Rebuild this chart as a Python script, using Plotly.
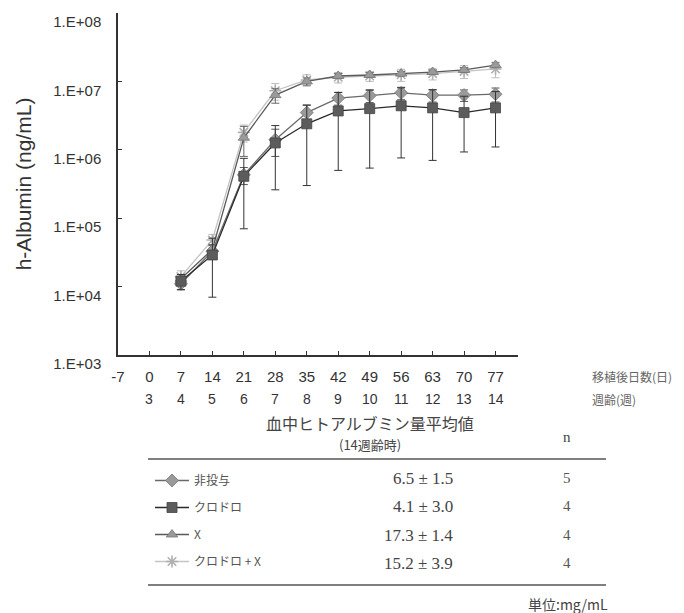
import plotly.graph_objects as go

# ---- data ----
days = [7, 14, 21, 28, 35, 42, 49, 56, 63, 70, 77]
day_ticks = [-7, 0, 7, 14, 21, 28, 35, 42, 49, 56, 63, 70, 77]
week_days = [0, 7, 14, 21, 28, 35, 42, 49, 56, 63, 70, 77]
week_labels = ["3", "4", "5", "6", "7", "8", "9", "10", "11", "12", "13", "14"]

non_admin = [1.1e4, 3.3e4, 4.3e5, 1.4e6, 3.5e6, 5.7e6, 6.2e6, 6.8e6, 6.3e6, 6.3e6, 6.5e6]
non_admin_err = [2e3, 8e3, 1.2e5, 6e5, 1.0e6, 1.2e6, 1.3e6, 1.4e6, 1.3e6, 1.2e6, 1.5e6]
clodro = [1.2e4, 2.9e4, 4.1e5, 1.26e6, 2.4e6, 3.7e6, 4.0e6, 4.4e6, 4.1e6, 3.5e6, 4.1e6]
clodro_err = [3e3, 2.2e4, 3.4e5, 1.0e6, 2.1e6, 3.2e6, 3.46e6, 3.64e6, 3.4e6, 2.57e6, 3.0e6]
x_only = [1.3e4, 3.5e4, 1.5e6, 6.3e6, 1.0e7, 1.2e7, 1.24e7, 1.3e7, 1.37e7, 1.47e7, 1.73e7]
x_err = [2e3, 5e3, 7e5, 1.5e6, 1.2e6, 1.0e6, 1.0e6, 1.0e6, 1.0e6, 1.2e6, 1.4e6]
clodro_x = [1.4e4, 4.8e4, 1.8e6, 7.3e6, 1.05e7, 1.15e7, 1.2e7, 1.25e7, 1.3e7, 1.4e7, 1.52e7]
clodro_x_err = [3e3, 1e4, 5e5, 2e6, 2e6, 2e6, 2e6, 2.5e6, 2.5e6, 3e6, 3.9e6]

y_tickvals = [1e3, 1e4, 1e5, 1e6, 1e7, 1e8]
y_ticktext = ["1.E+03", "1.E+04", "1.E+05", "1.E+06", "1.E+07", "1.E+08"]

group_names = ["非投与", "クロドロ", "X", "クロドロ + X"]
table_means = ["6.5", "4.1", "17.3", "15.2"]
table_sd = ["1.5", "3.0", "1.4", "3.9"]
table_n = ["5", "4", "4", "4"]

# ---- geometry helpers (pixel -> paper) ----
W, H = 684, 613
ML, MR, MT, MB = 110, 174, 5, 266
PW, PH = W - ML - MR, H - MT - MB


def px(xp):
    return (xp - ML) / PW


def py(yp):
    return (H - MB - yp) / PH


SANS = "Liberation Sans, Arial, sans-serif"
SERIF = "Liberation Serif, Times New Roman, serif"
JP = "Noto Sans CJK JP, sans-serif"

fig = go.Figure()

series = [
    dict(name=group_names[3], y=clodro_x, e=clodro_x_err, sym="asterisk-open", msize=10,
         mcol="#b0b0b0", lcol="#c4c4c4", mline=dict(color="#a8a8a8", width=1.6), ecol="#bdbdbd", rank=4),
    dict(name=group_names[2], y=x_only, e=x_err, sym="triangle-up", msize=10,
         mcol="#9a9a9a", lcol="#5a5a5a", mline=dict(color="#777", width=0.8), ecol="#666", rank=3),
    dict(name=group_names[0], y=non_admin, e=non_admin_err, sym="diamond", msize=10,
         mcol="#9a9a9a", lcol="#6a6a6a", mline=dict(color="#777", width=0.8), ecol="#555", rank=1),
    dict(name=group_names[1], y=clodro, e=clodro_err, sym="square", msize=10,
         mcol="#5c5c5c", lcol="#2a2a2a", mline=dict(color="#444", width=0.8), ecol="#333", rank=2),
]

for i, s in enumerate(series):
    fig.add_trace(go.Scatter(
        x=days, y=s["y"], name=s["name"], mode="lines+markers",
        line=dict(color=s["lcol"], width=1.3),
        marker=dict(symbol=s["sym"], size=s["msize"], color=s["mcol"], line=s["mline"]),
        error_y=dict(type="data", array=s["e"], visible=True, color=s["ecol"],
                     thickness=1, width=4),
        legendrank=s["rank"], legendgroup=f"g{i}",
    ))

fig.update_layout(
    width=W, height=H,
    margin=dict(l=ML, r=MR, t=MT, b=MB),
    paper_bgcolor="white", plot_bgcolor="white",
    showlegend=True,
    legend=dict(x=px(142), y=py(458), xanchor="left", yanchor="top",
                font=dict(family=JP, size=12, color="#555"),
                tracegroupgap=8, bgcolor="rgba(0,0,0,0)", itemwidth=34),
    xaxis=dict(range=[-7, 82], tickvals=day_ticks, ticktext=[str(d) for d in day_ticks],
               showgrid=False, zeroline=False, showline=True, linecolor="#333", linewidth=1.5,
               ticks="inside", ticklen=4, tickcolor="#333",
               tickfont=dict(family=SANS, size=15, color="#333"), ticklabelstandoff=7),
    yaxis=dict(type="log", range=[2.9999, 8.0001], tickvals=y_tickvals, ticktext=y_ticktext,
               showgrid=False, zeroline=False, showline=True, linecolor="#333", linewidth=1.5,
               ticks="inside", ticklen=4, tickcolor="#333",
               tickfont=dict(family=SANS, size=15, color="#333"),
               ticklabelstandoff=12, ticklabelshift=9, ticklabeloverflow="allow",
               title=dict(text="h-Albumin (ng/mL)", font=dict(family=SANS, size=21, color="#333"),
                          standoff=16)),
)

# week row under day labels
for d, w in zip(week_days, week_labels):
    fig.add_annotation(x=d, y=py(391), xref="x", yref="paper", text=w, showarrow=False,
                       font=dict(family=SANS, size=14, color="#333"), xanchor="center", yanchor="middle")

fig.add_annotation(x=px(582), y=py(368), xref="paper", yref="paper", text="移植後日数(日)",
                   showarrow=False, xanchor="left", yanchor="middle",
                   font=dict(family=JP, size=12, color="#666"))
fig.add_annotation(x=px(582), y=py(391), xref="paper", yref="paper", text="週齢(週)",
                   showarrow=False, xanchor="left", yanchor="middle",
                   font=dict(family=JP, size=12, color="#666"))

# table header
fig.add_annotation(x=px(362), y=py(415), xref="paper", yref="paper", text="血中ヒトアルブミン量平均値",
                   showarrow=False, xanchor="center", yanchor="middle",
                   font=dict(family=JP, size=16, color="#444"))
fig.add_annotation(x=px(362), y=py(436), xref="paper", yref="paper", text="(14週齢時)",
                   showarrow=False, xanchor="center", yanchor="middle",
                   font=dict(family=JP, size=13, color="#444"))
fig.add_annotation(x=px(559), y=py(429), xref="paper", yref="paper", text="n",
                   showarrow=False, xanchor="center", yanchor="middle",
                   font=dict(family=SERIF, size=15, color="#444"))

row_y = [470, 498, 527, 555]
for m, sd, n, ry in zip(table_means, table_sd, table_n, row_y):
    fig.add_annotation(x=px(447), y=py(ry), xref="paper", yref="paper", text=f"{m} ± {sd}",
                       showarrow=False, xanchor="right", yanchor="middle",
                       font=dict(family=SERIF, size=17, color="#444"))
    fig.add_annotation(x=px(559), y=py(ry), xref="paper", yref="paper", text=n,
                       showarrow=False, xanchor="center", yanchor="middle",
                       font=dict(family=SERIF, size=15, color="#555"))

for ly in (451, 577):
    fig.add_shape(type="line", xref="paper", yref="paper", x0=px(140), x1=px(598),
                  y0=py(ly), y1=py(ly), line=dict(color="#555", width=1.3))

fig.add_annotation(x=px(560), y=py(596), xref="paper", yref="paper", text="単位:mg/mL",
                   showarrow=False, xanchor="center", yanchor="middle",
                   font=dict(family=JP, size=14, color="#444"))

fig.write_html("out.html")
